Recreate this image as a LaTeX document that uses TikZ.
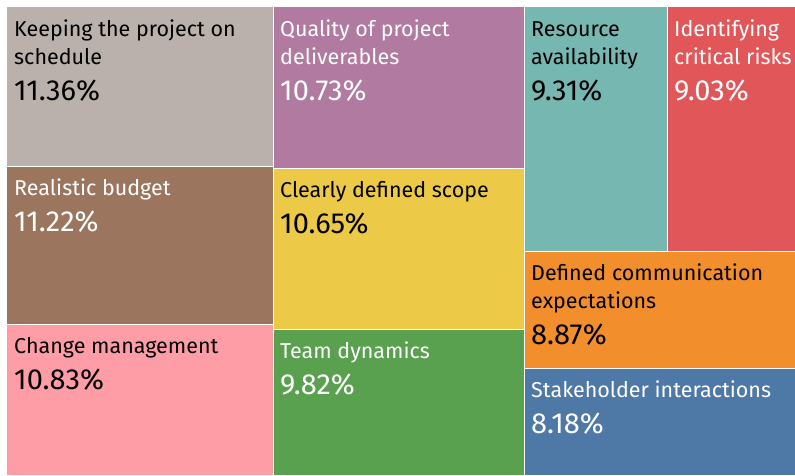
\documentclass[tikz,border=0pt]{standalone}
\usepackage{fontspec}
\setmainfont{Fira Sans}
\usetikzlibrary{positioning}
\definecolor{tgray}{HTML}{BAB0AC}
\definecolor{tbrown}{HTML}{9C755F}
\definecolor{tpink}{HTML}{FF9DA7}
\definecolor{tpurple}{HTML}{B07AA1}
\definecolor{tyellow}{HTML}{EDC948}
\definecolor{tgreen}{HTML}{59A14F}
\definecolor{tteal}{HTML}{76B7B2}
\definecolor{tred}{HTML}{E15759}
\definecolor{torange}{HTML}{F28E2B}
\definecolor{tblue}{HTML}{4E79A7}
\tikzset{
  tile/.style={draw=white, line width=1pt},
  lbl/.style={anchor=north west, inner sep=0pt, align=left,
    font=\fontsize{21.5}{28}\selectfont},
  pct/.style={anchor=north west, inner sep=0pt,
    font=\fontsize{29}{32}\selectfont},
}
% \cell{name}{x0}{y0}{x1}{y1}{fill}{text colour}{label}{percent}
\def\cell#1#2#3#4#5#6#7#8#9{%
  \fill[#6] (#2,#3) rectangle (#4,#5);
  \node[lbl, text=#7] (#1) at (#2+7,#3+9.5) {\strut #8\strut};
  \node[pct, text=#7, below=6.5pt of #1.south west, anchor=north west] (#1p) {#9};
}
\begin{document}
\begin{tikzpicture}[x=1pt,y=-1pt]
  %%%%% START %%%%%
  \useasboundingbox[fill=white] (0,0) rectangle (795,475);

  % left column
  \cell{sched}{7}{7}{273}{166}{tgray}{black}{Keeping the project on\\schedule}{11.36\%}
  \cell{budget}{7}{166}{273}{324}{tbrown}{white}{Realistic budget}{11.22\%}
  \cell{change}{7}{324}{273}{475}{tpink}{black}{Change management}{10.83\%}

  % middle column
  \cell{quality}{273}{7}{524}{168}{tpurple}{white}{Quality of project\\deliverables}{10.73\%}
  \cell{scope}{273}{168}{524}{329}{tyellow}{black}{Clearly defined scope}{10.65\%}
  \cell{team}{273}{329}{524}{475}{tgreen}{white}{Team dynamics}{9.82\%}

  % right column
  \cell{resource}{524}{7}{667}{251}{tteal}{black}{Resource\\availability}{9.31\%}
  \cell{risks}{667}{7}{795}{251}{tred}{white}{Identifying\\critical risks}{9.03\%}
  \cell{comm}{524}{251}{795}{368}{torange}{black}{Defined communication\\expectations}{8.87\%}
  \cell{stake}{524}{368}{795}{475}{tblue}{white}{Stakeholder interactions}{8.18\%}

  % white borders between tiles
  \draw[tile] (7,166) -- (273,166) (7,324) -- (273,324);
  \draw[tile] (273,7) -- (273,475);
  \draw[tile] (273,168) -- (524,168) (273,329) -- (524,329);
  \draw[tile] (524,7) -- (524,475) (667,7) -- (667,251);
  \draw[tile] (524,251) -- (795,251) (524,368) -- (795,368);
  %%%%% END %%%%%
\end{tikzpicture}
\end{document}
